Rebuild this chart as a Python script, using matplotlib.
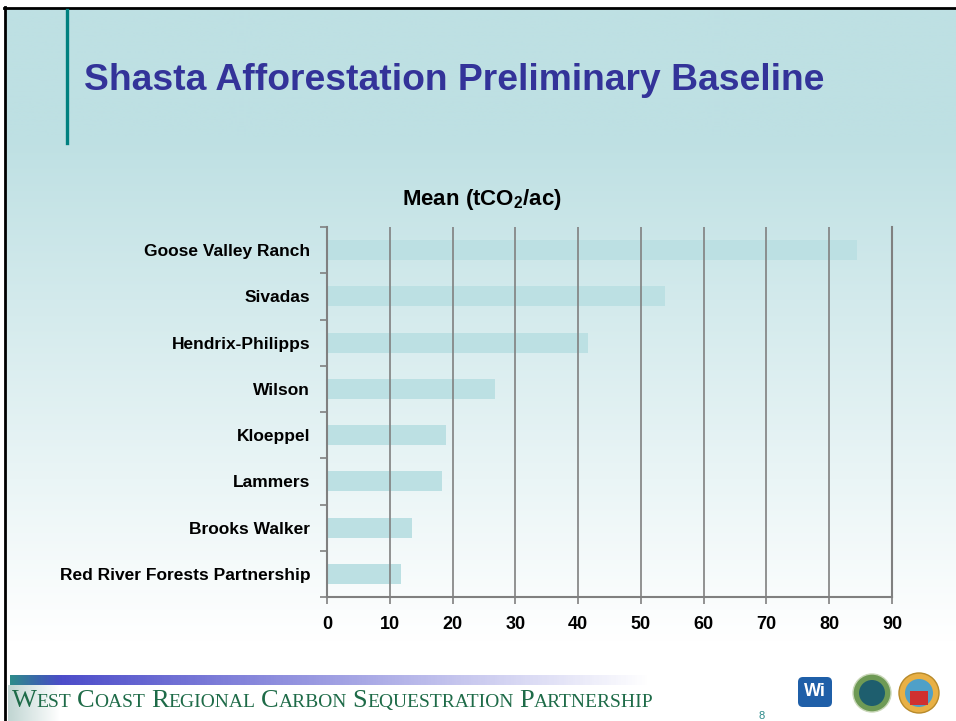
import matplotlib.pyplot as plt
import numpy as np
from matplotlib.patches import FancyBboxPatch, Circle, Rectangle

plt.rcParams['font.family'] = ['Liberation Sans', 'DejaVu Sans']
plt.rcParams['mathtext.fontset'] = 'custom'
plt.rcParams['mathtext.rm'] = 'Liberation Sans:bold'
plt.rcParams['mathtext.bf'] = 'Liberation Sans:bold'

# data
sites = ["Goose Valley Ranch", "Sivadas", "Hendrix-Philipps", "Wilson",
         "Kloeppel", "Lammers", "Brooks Walker", "Red River Forests Partnership"]
mean_tco2 = [84.4, 53.9, 41.5, 26.7, 18.9, 18.3, 13.5, 11.8]
xticks = [0, 10, 20, 30, 40, 50, 60, 70, 80, 90]

W, H = 956, 721
fig = plt.figure(figsize=(W / 100, H / 100), dpi=100)

# slide background (pixel coords)
bg = fig.add_axes([0, 0, 1, 1])
bg.set_xlim(0, W)
bg.set_ylim(H, 0)
bg.axis('off')
yy = np.arange(H)
t = np.clip((yy - 130) / 510.0, 0, 1)
top = np.array([190, 224, 227]) / 255.0
col = top + (1 - top) * t[:, None]
img = np.repeat(col[:, None, :], 2, axis=1)
bg.imshow(img, extent=(5, W, H, 8), aspect='auto', zorder=0)

# black border top / left
bg.plot([4, W], [7.5, 7.5], color='black', lw=2, zorder=2)
bg.plot([5, 5], [7, H], color='black', lw=2, zorder=2)

# teal accent line near title
bg.plot([67, 67], [10, 143], color='#00807F', lw=2.4, zorder=2)

bg.text(84, 81, "Shasta Afforestation Preliminary Baseline", fontsize=26.8,
        fontweight='bold', color='#333399', va='center', ha='left', zorder=3)

# footer band
xs = np.linspace(0, 1, 400)
band = np.zeros((1, 400, 4))
c1 = np.array([46, 139, 139]) / 255.0
c2 = np.array([70, 70, 200]) / 255.0
mix = np.clip(xs / 0.08, 0, 1)
band[0, :, :3] = c1 + (c2 - c1) * mix[:, None]
band[0, :, 3] = np.clip(1 - (xs - 0.05) / 0.95, 0, 1)
bg.imshow(band, extent=(10, 650, 685, 675), aspect='auto', zorder=1)
shade = np.zeros((1, 100, 4))
shade[0, :, :3] = np.array([150, 185, 180]) / 255.0
shade[0, :, 3] = np.linspace(0.6, 0, 100)
bg.imshow(shade, extent=(8, 60, H, 685), aspect='auto', zorder=1)

# small caps footer text
fig.canvas.draw()
rend = fig.canvas.get_renderer()
words = ["West", "Coast", "Regional", "Carbon", "Sequestration", "Partnership"]
x = 12
inv = bg.transData.inverted()
for w in words:
    for i, part in enumerate([w[0], w[1:].upper()]):
        size = 19 if i == 0 else 14
        tx = bg.text(x, 707, part, fontsize=size, family='Liberation Serif',
                     color='#1E6B48', ha='left', va='baseline', zorder=3)
        bb = tx.get_window_extent(renderer=rend)
        x0 = inv.transform((bb.x0, bb.y0))[0]
        x1 = inv.transform((bb.x1, bb.y0))[0]
        x += x1 - x0
    x += 5.5

bg.text(762, 716, "8", fontsize=8, color='#2E8B8B', ha='center', va='center', zorder=3)

# logos (simple shapes)
bg.add_patch(FancyBboxPatch((798, 677), 34, 30, boxstyle="round,pad=0,rounding_size=5",
                            fc='#1F5FA8', ec='none', zorder=3))
bg.text(815, 692, "Wi", fontsize=13, fontweight='bold', color='white',
        ha='center', va='center', zorder=4)
bg.add_patch(Circle((872, 693), 19, fc='#6E9A55', ec='#C9D7B8', lw=1, zorder=3))
bg.add_patch(Circle((872, 693), 13, fc='#1E5E6E', ec='none', zorder=3))
bg.add_patch(Circle((919, 693), 20, fc='#E8B045', ec='#B88A2A', lw=1, zorder=3))
bg.add_patch(Circle((919, 693), 14, fc='#4FA0C8', ec='none', zorder=3))
bg.add_patch(Rectangle((910, 691), 18, 14, fc='#D03030', ec='none', zorder=3))

bg.text(482, 200, r"Mean (tCO$_\mathbf{2}$/ac)", fontsize=16, fontweight='bold',
        ha='center', va='center', zorder=3)

# chart
ax = fig.add_axes([327 / W, 1 - 597 / H, (892 - 327) / W, (597 - 227) / H])
ax.patch.set_alpha(0)
ypos = np.arange(len(sites))
ax.barh(ypos, mean_tco2, height=0.43, color='#BCE0E3', zorder=1)
ax.set_ylim(len(sites) - 0.5, -0.5)
ax.set_xlim(0, 90)
ax.set_xticks(xticks)
ax.set_yticks(ypos)
ax.set_yticklabels(sites, fontsize=12.5, fontweight='bold')
ax.set_yticks(np.arange(-0.5, len(sites)), minor=True)
ax.tick_params(axis='y', which='major', length=0, pad=12)
ax.tick_params(axis='y', which='minor', length=5, width=1.2, color='#808080')
ax.tick_params(axis='x', length=5, width=1.2, color='#808080', pad=9, labelsize=13)
for lab in ax.get_xticklabels():
    lab.set_fontweight('bold')
ax.grid(axis='x', color='#808080', lw=1.2, zorder=2)
ax.axvline(90, color='#808080', lw=1.5, zorder=2, clip_on=False)
ax.set_axisbelow(False)
for s in ['top', 'right']:
    ax.spines[s].set_visible(False)
for s in ['left', 'bottom']:
    ax.spines[s].set_color('#808080')
    ax.spines[s].set_linewidth(1.5)

fig.savefig("out.png", dpi=100)
